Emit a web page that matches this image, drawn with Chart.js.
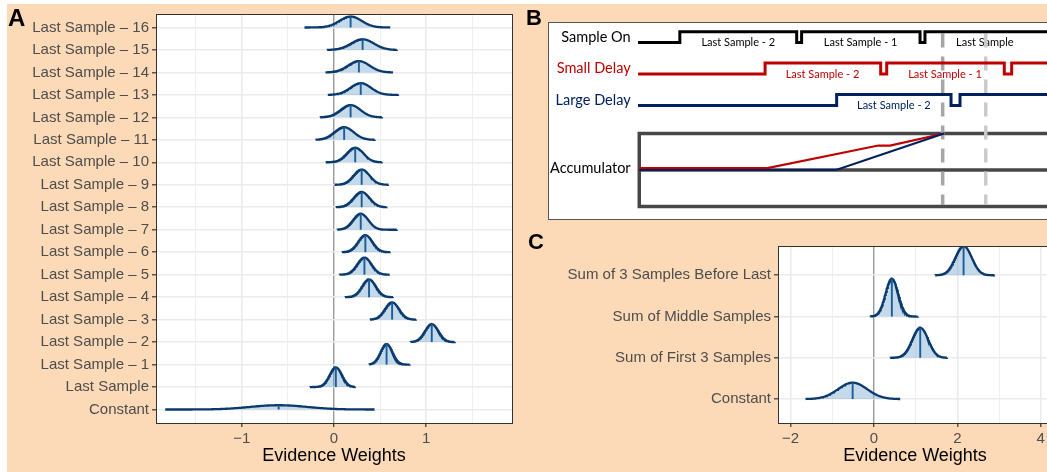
<!DOCTYPE html>
<html><head><meta charset="utf-8">
<script src="https://cdn.jsdelivr.net/npm/chart.js@4.4.1/dist/chart.umd.min.js"></script>
<style>
html,body{margin:0;padding:0;overflow:hidden;background:#fff;width:1047px;height:472px;}
#bg{position:absolute;left:7px;top:4px;width:1040px;height:468px;background:#FDDAB7;}
.wrap{position:absolute;}
#wa{left:0;top:0;width:530px;height:472px;}
#wb{left:548px;top:22px;width:520px;height:198px;}
#wc{left:530px;top:225px;width:540px;height:247px;}
.lab{position:absolute;font-family:"Liberation Sans",Arial,sans-serif;font-weight:bold;color:#000;line-height:1;}
</style></head>
<body>
<div id="bg"></div>
<div class="wrap" id="wa"><canvas id="ca" width="530" height="472"></canvas></div>
<div class="wrap" id="wb"><canvas id="cb" width="520" height="198"></canvas></div>
<div class="wrap" id="wc"><canvas id="cc" width="540" height="247"></canvas></div>
<div class="lab" style="left:8px;top:6px;font-size:24px;">A</div>
<div class="lab" style="left:526px;top:7px;font-size:22px;">B</div>
<div class="lab" style="left:528px;top:231px;font-size:22px;">C</div>
<script>
// ---------------- DATA ----------------
// Panel A (bottom to top)
const catsA = ['Constant','Last Sample','Last Sample \u2013 1','Last Sample \u2013 2','Last Sample \u2013 3',
  'Last Sample \u2013 4','Last Sample \u2013 5','Last Sample \u2013 6','Last Sample \u2013 7','Last Sample \u2013 8',
  'Last Sample \u2013 9','Last Sample \u2013 10','Last Sample \u2013 11','Last Sample \u2013 12','Last Sample \u2013 13',
  'Last Sample \u2013 14','Last Sample \u2013 15','Last Sample \u2013 16'];
const medianA = [-0.60, 0.02, 0.57, 1.06, 0.63, 0.38, 0.33, 0.34, 0.29, 0.30, 0.30, 0.23, 0.11, 0.18, 0.29, 0.27, 0.31, 0.18];
const sdA     = [0.306, 0.067, 0.064, 0.073, 0.076, 0.074, 0.077, 0.077, 0.082, 0.086, 0.086, 0.090, 0.104, 0.107, 0.112, 0.116, 0.123, 0.120];
const loA     = [-1.83, -0.26, 0.38, 0.83, 0.39, 0.12, 0.06, 0.086, 0.035, 0.02, 0.006, -0.09, -0.20, -0.15, -0.067, -0.092, -0.074, -0.32];
const hiA     = [0.44, 0.23, 0.82, 1.31, 0.89, 0.64, 0.60, 0.61, 0.68, 0.57, 0.59, 0.52, 0.44, 0.52, 0.70, 0.64, 0.68, 0.61];
const gridA   = [-1.5, -1, -0.5, 0, 0.5, 1, 1.5];

// Panel C (bottom to top)
const catsC   = ['Constant','Sum of First 3 Samples','Sum of Middle Samples','Sum of 3 Samples Before Last'];
const medianC = [-0.51, 1.11, 0.43, 2.15];
const sdC     = [0.348, 0.19, 0.151, 0.195];
const loC     = [-1.64, 0.39, -0.09, 1.47];
const hiC     = [0.63, 1.75, 1.05, 2.89];
const gridC   = [-2, -1, 0, 1, 2, 3, 4];

// Panel B (schematic timeline, time in arbitrary units)
const bRows       = ['Sample On', 'Small Delay', 'Large Delay'];
const bEdges      = [[34, 129, 133, 229.3, 233.3], [103.3, 197.3, 202.2, 297.8, 303.8], [161.5, 254.5, 261.8]];
const bSegLabels  = [[['Last Sample - 2', 81.5], ['Last Sample - 1', 181], ['Last Sample', 282]],
                     [['Last Sample - 2', 150], ['Last Sample - 1', 249.6]],
                     [['Last Sample - 2', 208]]];
const accRedT  = [1, 105.1, 195.4, 204.9, 248.8];
const accRedY  = [0.05, 0.05, 0.67, 0.67, 1];
const accBlueT = [1, 161, 248.8];
const accBlueY = [0, 0, 1];
const dashT    = [247.7, 282.7];

// ---------------- HELPERS ----------------
const FONT = '"Liberation Sans", Arial, Helvetica, sans-serif';
const BFONT = 'Lato, "Open Sans", sans-serif';
const CURVE = '#0a3a6d', MED = '#1b5d99', FILLC = 'rgba(115,165,205,0.42)';
function dens(x, m, s, k) { return k * Math.exp(-0.5 * ((x - m) / s) ** 2) / (s * Math.sqrt(2 * Math.PI)); }
function ridgeDatasets(med, sd, lo, hi, k) {
  const ds = [];
  med.forEach((m, i) => {
    const n = 120, pts = [];
    for (let j = 0; j <= n; j++) { const x = lo[i] + (hi[i] - lo[i]) * j / n; pts.push({x, y: i + dens(x, m, sd[i], k)}); }
    ds.push({data: pts, borderColor: CURVE, borderWidth: 2.3, backgroundColor: FILLC, fill: {value: i}, pointRadius: 0, tension: 0, order: 2});
    ds.push({data: [{x: m, y: i}, {x: m, y: i + dens(m, m, sd[i], k)}], borderColor: MED, borderWidth: 1.9, pointRadius: 0, fill: false, order: 1});
  });
  return ds;
}
const fmt = v => (v < 0 ? '\u2212' + Math.abs(v) : String(v));
const panelPlugin = {id: 'pborder',
  beforeDraw(ch) {
    const a = ch.chartArea, c = ch.ctx; c.save(); c.fillStyle = '#fff';
    c.fillRect(a.left, a.top, a.right - a.left, a.bottom - a.top); c.restore();
  },
  afterDatasetsDraw(ch) {
    const a = ch.chartArea, c = ch.ctx; c.save(); c.strokeStyle = '#333'; c.lineWidth = 1;
    c.strokeRect(Math.round(a.left) + 0.5, Math.round(a.top) + 0.5, Math.round(a.right - a.left), Math.round(a.bottom - a.top)); c.restore();
  }};
function ridgeChart(id, cats, grid, labelEvery, xmin, xmax, ymin, ymax, yW, xH, pad, med, sd, lo, hi, k) {
  return new Chart(document.getElementById(id), {
    type: 'line',
    data: {datasets: ridgeDatasets(med, sd, lo, hi, k)},
    plugins: [panelPlugin],
    options: {
      responsive: false, animation: false, devicePixelRatio: 1,
      layout: {padding: pad},
      plugins: {legend: {display: false}, tooltip: {enabled: false}},
      scales: {
        x: {type: 'linear', position: 'bottom', min: xmin, max: xmax,
          afterBuildTicks: s => { s.ticks = grid.map(v => ({value: v})); },
          afterFit: s => { s.height = xH; },
          ticks: {autoSkip: false, maxRotation: 0, padding: 3, color: '#4D4D4D', font: {family: FONT, size: 15},
            callback: v => (labelEvery(v) ? fmt(v) : '')},
          grid: {color: c => (c.tick && c.tick.value === 0 ? '#9a9a9a' : '#EBEBEB'),
            lineWidth: c => (c.tick && c.tick.value === 0 ? 1.4 : (c.tick && labelEvery(c.tick.value) ? 1.6 : 0.8)),
            tickColor: c => (c.tick && labelEvery(c.tick.value) ? '#333' : 'rgba(0,0,0,0)'), tickLength: 4, tickWidth: 1.2},
          border: {display: false},
          title: {display: true, text: 'Evidence Weights', color: '#000', font: {family: FONT, size: 18}, padding: {top: 0, bottom: 5}}},
        y: {type: 'linear', min: ymin, max: ymax,
          afterBuildTicks: s => { s.ticks = cats.map((c, i) => ({value: i})); },
          afterFit: s => { s.width = yW; },
          ticks: {autoSkip: false, padding: 3, color: '#4D4D4D', font: {family: FONT, size: 15}, callback: v => cats[v]},
          grid: {color: '#EBEBEB', lineWidth: 1.6, tickColor: '#333', tickLength: 4, tickWidth: 1.2},
          border: {display: false}}
      }
    }
  });
}

// Panel A
ridgeChart('ca', catsA, gridA, v => Number.isInteger(v), -1.93, 1.93, -0.6, 17.6, 156, 49,
  {top: 14, right: 18, left: 0, bottom: 0}, medianA, sdA, loA, hiA, 0.1467);
// Panel C
ridgeChart('cc', catsC, gridC, v => v % 2 === 0, -2.3, 4.27, -0.58, 3.71, 248, 49,
  {top: 21, right: 18, left: 0, bottom: 0}, medianC, sdC, loC, hiC, 0.347);

// Panel B
const rowBase = [3.49, 2.63, 1.77], rowAmp = 0.3, tEnd = 360;
const rowColors = ['#000000', '#C00000', '#002060'];
const bDs = [];
bEdges.forEach((edges, r) => {
  let lvl = 0; const pts = [{x: 0, y: rowBase[r]}];
  edges.forEach(t => { pts.push({x: t, y: rowBase[r] + lvl * rowAmp}); lvl = 1 - lvl; pts.push({x: t, y: rowBase[r] + lvl * rowAmp}); });
  pts.push({x: tEnd, y: rowBase[r] + lvl * rowAmp});
  bDs.push({data: pts, borderColor: rowColors[r], borderWidth: 3, pointRadius: 0, tension: 0, borderJoinStyle: 'miter', order: 1});
});
// accumulator frame
bDs.push({data: [{x: tEnd, y: 1}, {x: 1, y: 1}, {x: 1, y: -1}, {x: tEnd, y: -1}], borderColor: '#474747', borderWidth: 3.5, pointRadius: 0, tension: 0, borderJoinStyle: 'miter', order: 3});
bDs.push({data: [{x: 1, y: 0}, {x: tEnd, y: 0}], borderColor: '#474747', borderWidth: 3.5, pointRadius: 0, order: 3});
bDs.push({data: accBlueT.map((t, i) => ({x: t, y: accBlueY[i]})), borderColor: '#002060', borderWidth: 2.2, pointRadius: 0, tension: 0, order: 0});
bDs.push({data: accRedT.map((t, i) => ({x: t, y: accRedY[i]})), borderColor: '#C00000', borderWidth: 2.2, pointRadius: 0, tension: 0, order: 0});
dashT.forEach((t, i) => bDs.push({data: [{x: t, y: 3.74}, {x: t, y: -0.96}], borderColor: i === 0 ? '#A6A6A6' : '#CACACA', borderWidth: 3.5, borderDash: [14, 9], pointRadius: 0, order: 2}));

const bTextPlugin = {id: 'btext', beforeDatasetsDraw(ch) {
  const c = ch.ctx, xs = ch.scales.x, ys = ch.scales.y;
  c.save();
  c.fillStyle = '#fff'; c.fillRect(0, 0, ch.width, ch.height);
  c.textBaseline = 'middle';
  c.font = '14.5px ' + BFONT; c.textAlign = 'right';
  bRows.forEach((n, r) => { c.fillStyle = rowColors[r]; c.fillText(n, xs.getPixelForValue(-6), ys.getPixelForValue(rowBase[r] + rowAmp / 2)); });
  c.fillStyle = '#000'; c.fillText('Accumulator', xs.getPixelForValue(-6), ys.getPixelForValue(0.05));
  c.font = '11px ' + BFONT; c.textAlign = 'center';
  bSegLabels.forEach((labs, r) => labs.forEach(([txt, t]) => { c.fillStyle = rowColors[r]; c.fillText(txt, xs.getPixelForValue(t), ys.getPixelForValue(rowBase[r])); }));
  c.restore();
}, afterDraw(ch) {
  const c = ch.ctx; c.save(); c.strokeStyle = '#555'; c.lineWidth = 1; c.strokeRect(0.5, 0.5, ch.width, ch.height - 1); c.restore();
}};
new Chart(document.getElementById('cb'), {
  type: 'line', data: {datasets: bDs}, plugins: [bTextPlugin],
  options: {responsive: false, animation: false, devicePixelRatio: 1, layout: {padding: 0},
    plugins: {legend: {display: false}, tooltip: {enabled: false}},
    scales: {x: {type: 'linear', display: false, min: -73.2, max: 349.6},
             y: {type: 'linear', display: false, min: -1.37, max: 4.055}}}
});
</script>
</body></html>
